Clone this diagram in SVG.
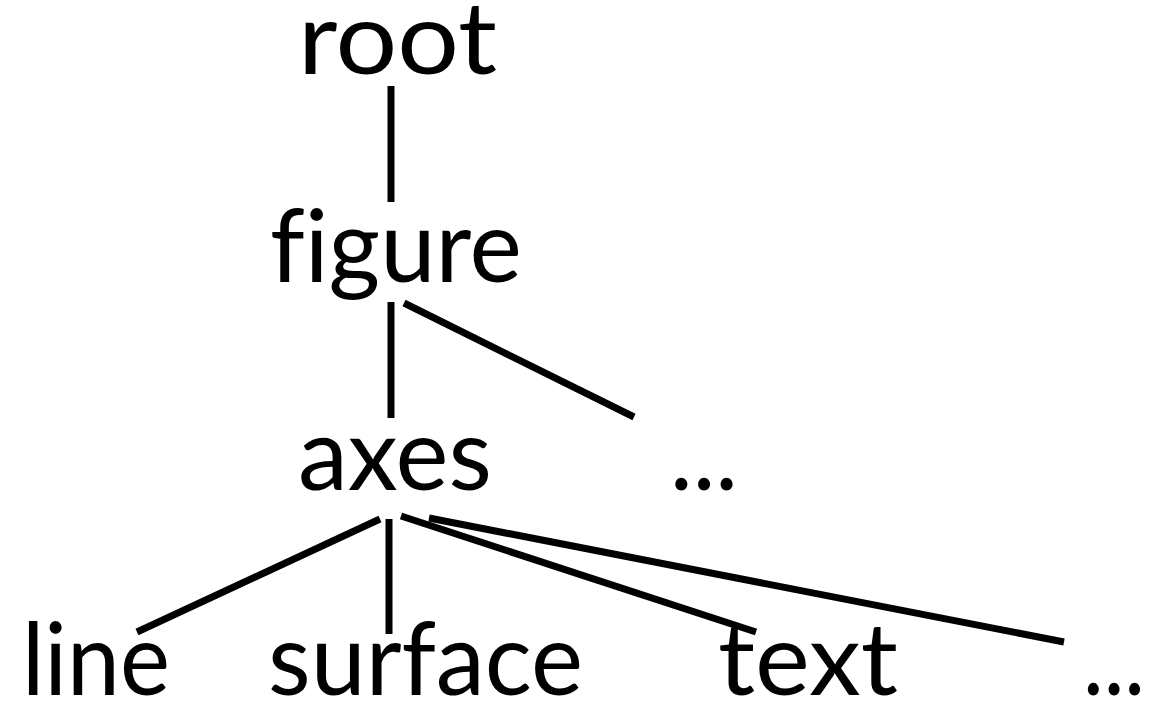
<svg xmlns="http://www.w3.org/2000/svg" width="1165" height="702" viewBox="0 0 1165 702">
<style>
.lbl{font-family:"Gill Sans","Lato","Open Sans",sans-serif;font-size:100px;fill:#000;font-variant-ligatures:none;font-feature-settings:"liga" 0}
.edge{stroke:#000;stroke-width:7;fill:none}
</style>
<rect width="1165" height="702" fill="#fff"/>
<g id="connectors">
<line class="edge" x1="391" y1="86" x2="391" y2="202"/>
<line class="edge" x1="391" y1="302" x2="391" y2="418"/>
<line class="edge" x1="404" y1="303" x2="634" y2="417"/>
<line class="edge" x1="380" y1="519" x2="137" y2="632"/>
<line class="edge" x1="389" y1="519" x2="389" y2="634"/>
<line class="edge" x1="401" y1="516" x2="756" y2="632"/>
<line class="edge" x1="429" y1="518" x2="1064" y2="642"/>
</g>
<g id="node-root"><text class="lbl" x="298" y="74" textLength="199" lengthAdjust="spacingAndGlyphs">root</text></g>
<g id="node-figure"><text class="lbl" x="270" y="282" textLength="252" lengthAdjust="spacingAndGlyphs">figure</text></g>
<g id="node-axes"><text class="lbl" x="298" y="490" textLength="194" lengthAdjust="spacingAndGlyphs">axes</text></g>
<g id="node-more1"><text class="lbl" x="670" y="490" textLength="68" lengthAdjust="spacingAndGlyphs">...</text></g>
<g id="node-line"><text class="lbl" x="22" y="695" textLength="148" lengthAdjust="spacingAndGlyphs">line</text></g>
<g id="node-surface"><text class="lbl" x="268" y="695" textLength="315" lengthAdjust="spacingAndGlyphs">surface</text></g>
<g id="node-text"><text class="lbl" x="718" y="695" textLength="180" lengthAdjust="spacingAndGlyphs">text</text></g>
<g id="node-more2"><text class="lbl" x="1083" y="695" textLength="62" lengthAdjust="spacingAndGlyphs">...</text></g>
</svg>
